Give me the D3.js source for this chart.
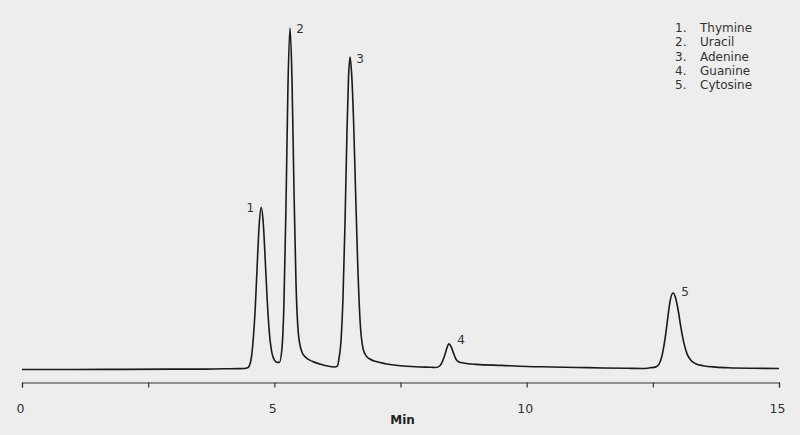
<!DOCTYPE html>
<html><head><meta charset="utf-8">
<script src="https://cdn.jsdelivr.net/npm/d3@7"></script>
<style>
html,body{margin:0;padding:0;background:#ededed;}
svg{display:block;font-family:"DejaVu Sans",Verdana,sans-serif;}
</style></head>
<body><svg id="chart" width="800" height="435"></svg>
<script>
// Chromatogram trace: retention time (min) and detector signal (relative units)
const times = [0, 1, 2, 3, 3.5, 4.0, 4.3, 4.4, 4.48, 4.54, 4.58, 4.62, 4.66, 4.70, 4.74, 4.78, 4.82, 4.86, 4.90, 4.95, 5.00, 5.05, 5.10,
  5.15, 5.19, 5.23, 5.27, 5.31, 5.35, 5.39, 5.43, 5.48, 5.55, 5.62, 5.75, 5.90, 6.05, 6.20,
  6.25, 6.28, 6.32, 6.36, 6.40, 6.44, 6.47, 6.50, 6.53, 6.57, 6.61, 6.65, 6.70, 6.76, 6.82, 6.90, 7.00, 7.20, 7.50, 7.80, 8.10, 8.20,
  8.28, 8.33, 8.38, 8.42, 8.46, 8.50, 8.55, 8.60, 8.66, 8.75, 9.0, 9.5, 10.0, 10.5, 11.0, 11.5, 12.0, 12.3,
  12.45, 12.55, 12.62, 12.68, 12.74, 12.79, 12.84, 12.90, 12.95, 13.00, 13.06, 13.12, 13.18, 13.25, 13.35, 13.50, 13.75, 14.0, 14.5, 15.0];
const signal = [0, 0, 0.05, 0.1, 0.1, 0.2, 0.25, 0.3, 0.6, 3.0, 8.5, 17.4, 30.4, 42.4, 47.4, 43, 32, 20, 11, 5, 2.8, 2.1, 2.1,
  6, 19, 47, 83, 100, 85, 52, 25, 10, 5, 3.6, 2.4, 1.6, 1.0, 0.75,
  1.0, 3.1, 8.2, 20.7, 42.7, 70, 85.5, 91.5, 87, 73, 52, 32, 14, 6, 4.0, 3.0, 2.4, 1.7, 1.1, 0.8, 0.65, 0.6,
  1.1, 2.3, 4.3, 6.3, 7.5, 6.8, 4.8, 3.0, 2.2, 1.9, 1.5, 1.2, 0.9, 0.75, 0.6, 0.45, 0.35, 0.3,
  0.5, 0.7, 1.5, 3.9, 8.8, 14.4, 19.9, 22.4, 21.0, 17.5, 12.0, 7.5, 4.5, 2.8, 1.7, 1.1, 0.7, 0.5, 0.35, 0.3];

const peakNumbers = ["1", "2", "3", "4", "5"];
const peakTimes = [4.74, 5.31, 6.50, 8.46, 12.90];
const peakHeights = [47.4, 100, 91.5, 7.5, 22.4];
const compounds = ["Thymine", "Uracil", "Adenine", "Guanine", "Cytosine"];

const tickValues = [0, 2.5, 5, 7.5, 10, 12.5, 15];
const tickLabels = ["0", "", "5", "", "10", "", "15"];
const xTitle = "Min";

const svg = d3.select("#chart");
const x = d3.scaleLinear().domain([0, 15]).range([22, 779]);
const y = d3.scaleLinear().domain([0, 100]).range([369.5, 28]);

const pts = times.map((t, i) => [t, signal[i]]);
const line = d3.line().x(d => x(d[0])).y(d => y(d[1])).curve(d3.curveMonotoneX);

svg.append("path").datum(pts)
  .attr("d", line).attr("fill", "none").attr("stroke", "#1a1a1a")
  .attr("stroke-width", 1.6).attr("stroke-linejoin", "round");

// Peak labels
const labelOffsets = [[-11, 1], [10, 1], [10, 2], [12, -3], [12, -1]];
svg.append("g").selectAll("text").data(peakNumbers).join("text")
  .attr("x", (d, i) => x(peakTimes[i]) + labelOffsets[i][0])
  .attr("y", (d, i) => y(peakHeights[i]) + labelOffsets[i][1])
  .attr("text-anchor", "middle").attr("dominant-baseline", "middle")
  .attr("font-size", 12).attr("fill", "#333").text(d => d);

// Axis
const axis = d3.axisBottom(x).tickValues(tickValues)
  .tickFormat((d, i) => tickLabels[i]).tickSize(5).tickPadding(17);
const ax = svg.append("g").attr("transform", "translate(0,382.5)").call(axis);
ax.select(".domain").attr("stroke", "#333").attr("stroke-width", 1.2);
ax.selectAll(".tick line").attr("stroke", "#333").attr("stroke-width", 1.2);
ax.selectAll(".tick text").attr("font-size", 12.5).attr("fill", "#333")
  .attr("font-family", "DejaVu Sans, sans-serif").attr("dx", -2);

svg.append("text").attr("x", 402.5).attr("y", 424)
  .attr("text-anchor", "middle").attr("font-size", 12).attr("font-weight", "bold")
  .attr("fill", "#222").text(xTitle);

// Legend
const lg = svg.append("g");
compounds.forEach((c, i) => {
  const yy = 28.3 + i * 14.35;
  lg.append("text").attr("x", 675).attr("y", yy).attr("dominant-baseline", "middle")
    .attr("font-size", 12).attr("fill", "#333").text(peakNumbers[i] + ".");
  lg.append("text").attr("x", 700).attr("y", yy).attr("dominant-baseline", "middle")
    .attr("font-size", 12).attr("fill", "#333").text(c);
});
</script></body></html>
